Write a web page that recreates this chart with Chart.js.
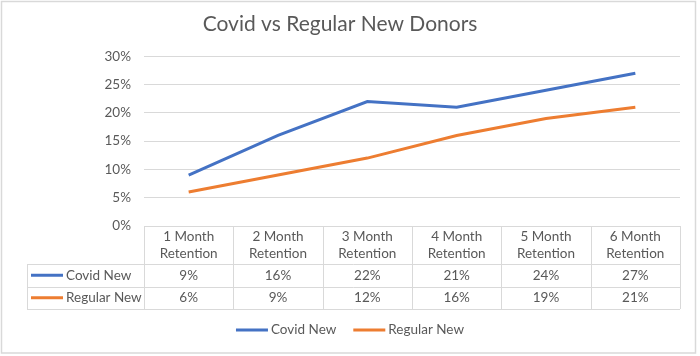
<!DOCTYPE html>
<html>
<head>
<meta charset="utf-8">
<script src="https://cdn.jsdelivr.net/npm/chart.js@4/dist/chart.umd.min.js"></script>
<style>
  html, body { margin: 0; padding: 0; background: #fff; }
  #wrap { width: 700px; height: 356px; }
</style>
</head>
<body>
<div id="wrap"><canvas id="c" width="700" height="356"></canvas></div>
<script>
const categories = [
  ["1 Month", "Retention"],
  ["2 Month", "Retention"],
  ["3 Month", "Retention"],
  ["4 Month", "Retention"],
  ["5 Month", "Retention"],
  ["6 Month", "Retention"]
];
const covidNew = [0.09, 0.16, 0.22, 0.21, 0.24, 0.27];
const regularNew = [0.06, 0.09, 0.12, 0.16, 0.19, 0.21];
const seriesNames = ["Covid New", "Regular New"];
const yTicks = [0, 0.05, 0.10, 0.15, 0.20, 0.25, 0.30];

const FONT = "Lato, 'Open Sans', sans-serif";
const TEXT = "#595959";
const GRID = "#d9d9d9";

const fmtPct = v => Math.round(v * 100) + "%";

const tablePlugin = {
  id: "dataTable",
  beforeDraw(chart) {
    const ctx = chart.ctx;
    ctx.save();
    ctx.fillStyle = "#ffffff";
    ctx.fillRect(0, 0, chart.width, chart.height);
    ctx.restore();
  },
  afterDraw(chart) {
    const ctx = chart.ctx;
    const xs = chart.scales.x;
    const area = chart.chartArea;
    const n = categories.length;
    const colW = (area.right - area.left) / n;
    const top = area.bottom;
    const hdrH = 38, rowH = 22.5;
    const r1 = top + hdrH, r2 = r1 + rowH, r3 = r2 + rowH;
    const labelLeft = 27;

    ctx.save();
    ctx.strokeStyle = GRID;
    ctx.lineWidth = 1;
    const hl = (x1, x2, y) => { ctx.beginPath(); ctx.moveTo(x1, Math.round(y) + 0.5); ctx.lineTo(x2, Math.round(y) + 0.5); ctx.stroke(); };
    const vl = (x, y1, y2) => { ctx.beginPath(); ctx.moveTo(Math.round(x) + 0.5, y1); ctx.lineTo(Math.round(x) + 0.5, y2); ctx.stroke(); };
    hl(area.left, area.right, top);
    hl(labelLeft, area.right, r1);
    hl(labelLeft, area.right, r2);
    hl(labelLeft, area.right, r3);
    vl(labelLeft, r1, r3);
    for (let i = 0; i <= n; i++) {
      const x = xs.getPixelForValue(i) - colW / 2;
      vl(i === n ? area.right : x, top, r3);
    }

    ctx.fillStyle = TEXT;
    ctx.font = "13.5px " + FONT;
    ctx.textAlign = "center";
    ctx.textBaseline = "middle";
    const sets = chart.data.datasets;
    for (let i = 0; i < n; i++) {
      const cx = xs.getPixelForValue(i);
      ctx.fillText(categories[i][0], cx, top + 11);
      ctx.fillText(categories[i][1], cx, top + 28);
      sets.forEach((ds, k) => {
        ctx.fillText(fmtPct(ds.data[i]), cx, r1 + rowH * k + rowH / 2);
      });
    }
    ctx.textAlign = "left";
    sets.forEach((ds, k) => {
      const cy = r1 + rowH * k + rowH / 2;
      ctx.strokeStyle = ds.borderColor;
      ctx.lineWidth = 3;
      ctx.beginPath(); ctx.moveTo(31, cy); ctx.lineTo(63, cy); ctx.stroke();
      ctx.fillText(ds.label, 66, cy);
    });

    // legend
    const ly = 330;
    const items = sets.map(ds => ({ ds, w: 32 + 3 + ctx.measureText(ds.label).width }));
    const gap = 17;
    const total = items.reduce((s, it) => s + it.w, 0) + gap * (items.length - 1);
    let lx = chart.width / 2 - total / 2;
    items.forEach(it => {
      ctx.strokeStyle = it.ds.borderColor;
      ctx.lineWidth = 3;
      ctx.beginPath(); ctx.moveTo(lx, ly); ctx.lineTo(lx + 32, ly); ctx.stroke();
      ctx.fillStyle = TEXT;
      ctx.fillText(it.ds.label, lx + 35, ly);
      lx += it.w + gap;
    });

    // outer border
    ctx.strokeStyle = GRID;
    ctx.lineWidth = 1.5;
    ctx.strokeRect(1.5, 1.5, 694, 351.5);
    ctx.restore();
  }
};

new Chart(document.getElementById("c"), {
  type: "line",
  data: {
    labels: categories.map(c => c.join(" ")),
    datasets: [
      { label: seriesNames[0], data: covidNew, borderColor: "#4472C4", backgroundColor: "#4472C4", borderWidth: 3, pointRadius: 0, tension: 0 },
      { label: seriesNames[1], data: regularNew, borderColor: "#ED7D31", backgroundColor: "#ED7D31", borderWidth: 3, pointRadius: 0, tension: 0 }
    ]
  },
  options: {
    responsive: false,
    animation: false,
    layout: { padding: { left: 0, right: 20, top: 0, bottom: 46 } },
    plugins: {
      legend: { display: false },
      tooltip: { enabled: false },
      title: {
        display: true,
        text: "Covid vs Regular New Donors",
        color: TEXT,
        font: { family: FONT, size: 21, weight: "normal" },
        padding: { top: 12, bottom: 19 }
      }
    },
    scales: {
      x: {
        offset: true,
        grid: { display: false },
        border: { display: false },
        ticks: { display: false },
        afterFit(scale) { scale.height = 84; }
      },
      y: {
        min: 0, max: 0.30,
        afterBuildTicks(scale) { scale.ticks = yTicks.map(v => ({ value: v })); },
        afterFit(scale) { scale.width = 144; },
        grid: { color: GRID, drawTicks: false, lineWidth: 1 },
        border: { display: false },
        ticks: {
          padding: 13,
          color: TEXT,
          font: { family: FONT, size: 13.5 },
          callback: v => fmtPct(v)
        }
      }
    }
  },
  plugins: [tablePlugin]
});
</script>
</body>
</html>
